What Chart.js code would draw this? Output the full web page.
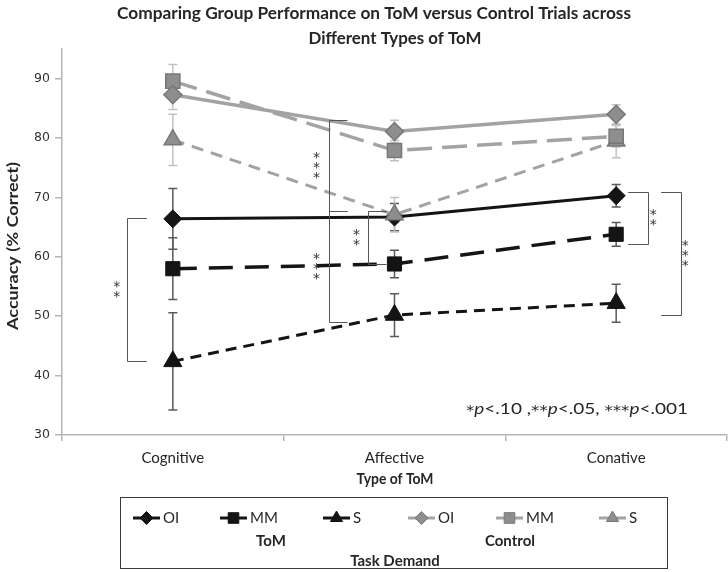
<!DOCTYPE html>
<html><head><meta charset="utf-8">
<script src="https://cdn.jsdelivr.net/npm/chart.js@4/dist/chart.umd.min.js"></script>
<style>html,body{margin:0;padding:0;background:#fff;overflow:hidden}canvas{display:block}</style>
</head><body>
<canvas id="c" width="728" height="572"></canvas>
<script>
// ---- data ----
const categories = ['Cognitive', 'Affective', 'Conative'];
const yTicks = [30, 40, 50, 60, 70, 80, 90];

const tomOI = [66.4, 66.7, 70.3];
const tomOIErr = [5.1, 2.3, 1.9];
const tomMM = [58.0, 58.8, 63.8];
const tomMMErr = [5.2, 2.3, 2.0];
const tomS = [42.4, 50.2, 52.2];
const tomSErr = [8.2, 3.6, 3.2];

const ctrlOI = [87.3, 81.1, 84.0];
const ctrlOIErr = [2.5, 1.9, 1.6];
const ctrlMM = [89.6, 77.9, 80.3];
const ctrlMMErr = [2.8, 1.7, 1.8];
const ctrlS = [79.7, 67.1, 79.5];
const ctrlSErr = [4.3, 2.9, 2.8];

const groupLabels = ['ToM', 'Control'];

// significance brackets: category index, value range, number of stars
const bracketCats = [0, 1, 1, 1, 2, 2];
const bracketTop = [66.5, 83.1, 67.7, 67.7, 71.0, 71.0];
const bracketBottom = [42.5, 67.7, 49.1, 58.8, 62.2, 50.2];
const bracketStars = [2, 3, 3, 2, 2, 3];
// style offsets (pixels relative to the category centre)
const bracketStyle = [
  {vx: -46, ax: -26, lx: -56},
  {vx: -66, ax: -47, lx: -78},
  {vx: -66, ax: -47, lx: -78},
  {vx: -27, ax: -8,  lx: -38},
  {vx: 32,  ax: 12,  lx: 37},
  {vx: 65,  ax: 45,  lx: 69}
];

const BLACK = '#141414';
const GREY_LINE = '#a3a3a3';
const GREY_FILL = '#8e8e8e';
const GREY_EDGE = '#777777';

function ds(label, data, err, group, style) {
  return Object.assign({
    label: label, data: data, err: err, group: group,
    tension: 0, fill: false, pointHoverRadius: 0
  }, style);
}

const datasets = [
  ds('OI', tomOI, tomOIErr, 'ToM', {order: 1, borderColor: BLACK, borderWidth: 3, borderDash: [],
     pointStyle: 'rectRot', pointRadius: 9, pointBackgroundColor: BLACK, pointBorderColor: BLACK, pointBorderWidth: 1, errColor: '#5a5a5a'}),
  ds('MM', tomMM, tomMMErr, 'ToM', {order: 1, borderColor: BLACK, borderWidth: 3.5, borderDash: [24, 12],
     pointStyle: 'rect', pointRadius: 10, pointBackgroundColor: BLACK, pointBorderColor: BLACK, pointBorderWidth: 1, errColor: '#5a5a5a'}),
  ds('S', tomS, tomSErr, 'ToM', {order: 1, borderColor: BLACK, borderWidth: 3, borderDash: [11, 7],
     pointStyle: 'triangle', pointRadius: 10.5, pointBackgroundColor: BLACK, pointBorderColor: BLACK, pointBorderWidth: 1, errColor: '#5a5a5a'}),
  ds('OI', ctrlOI, ctrlOIErr, 'Control', {order: 0, borderColor: GREY_LINE, borderWidth: 3.5, borderDash: [],
     pointStyle: 'rectRot', pointRadius: 9, pointBackgroundColor: GREY_FILL, pointBorderColor: GREY_EDGE, pointBorderWidth: 1.5, errColor: '#c2c2c2'}),
  ds('MM', ctrlMM, ctrlMMErr, 'Control', {order: 0, borderColor: GREY_LINE, borderWidth: 3.5, borderDash: [25, 10],
     pointStyle: 'rect', pointRadius: 10, pointBackgroundColor: GREY_FILL, pointBorderColor: GREY_EDGE, pointBorderWidth: 1.5, errColor: '#c2c2c2'}),
  ds('S', ctrlS, ctrlSErr, 'Control', {order: 0, borderColor: GREY_LINE, borderWidth: 3, borderDash: [12, 8],
     pointStyle: 'triangle', pointRadius: 10, pointBackgroundColor: GREY_FILL, pointBorderColor: GREY_EDGE, pointBorderWidth: 1.5, errColor: '#c2c2c2'})
];

const FONT = 'Lato, "Open Sans", sans-serif';
const STAR_FONT = '14px "DejaVu Sans"';
const TEXT = '#262626';

function fitText(ctx, text, cx, cy, targetW, font, align) {
  ctx.save();
  ctx.font = font;
  const w = ctx.measureText(text).width;
  const s = targetW ? targetW / w : 1;
  ctx.translate(cx, cy);
  ctx.scale(s, 1);
  ctx.textAlign = align || 'center';
  ctx.textBaseline = 'middle';
  ctx.fillText(text, 0, 0);
  ctx.restore();
}

function drawStars(ctx, x, yMid, n) {
  ctx.save();
  ctx.font = STAR_FONT;
  ctx.fillStyle = '#333';
  ctx.textAlign = 'center';
  ctx.textBaseline = 'alphabetic';
  const m = ctx.measureText('*');
  const asc = m.actualBoundingBoxAscent, desc = m.actualBoundingBoxDescent;
  const gap = 10;
  for (let i = 0; i < n; i++) {
    const cy = yMid + (i - (n - 1) / 2) * gap;
    ctx.fillText('*', x, cy + (asc - desc) / 2);
  }
  ctx.restore();
}

const decor = {
  id: 'decor',
  beforeDraw(chart) {
    const ctx = chart.ctx;
    ctx.save();
    ctx.fillStyle = '#fff';
    ctx.fillRect(0, 0, chart.width, chart.height);
    ctx.restore();
  },
  beforeDatasetsDraw(chart) {
    const ctx = chart.ctx, xs = chart.scales.x, ys = chart.scales.y;
    ctx.save();
    chart.data.datasets.forEach(d => {
      ctx.strokeStyle = d.errColor;
      ctx.lineWidth = 1.5;
      d.data.forEach((v, i) => {
        const x = xs.getPixelForValue(i);
        const yt = ys.getPixelForValue(v + d.err[i]);
        const yb = ys.getPixelForValue(v - d.err[i]);
        ctx.beginPath();
        ctx.moveTo(x, yt); ctx.lineTo(x, yb);
        ctx.moveTo(x - 4.5, yt); ctx.lineTo(x + 4.5, yt);
        ctx.moveTo(x - 4.5, yb); ctx.lineTo(x + 4.5, yb);
        ctx.stroke();
      });
    });
    ctx.restore();
  },
  afterDatasetsDraw(chart) {
    const ctx = chart.ctx, xs = chart.scales.x, ys = chart.scales.y;
    ctx.save();
    ctx.strokeStyle = '#555';
    ctx.lineWidth = 1;
    bracketCats.forEach((c, i) => {
      const cx = xs.getPixelForValue(c);
      const st = bracketStyle[i];
      const y1 = ys.getPixelForValue(bracketTop[i]);
      const y2 = ys.getPixelForValue(bracketBottom[i]);
      const vx = Math.round(cx + st.vx) + 0.5, ax = cx + st.ax;
      ctx.beginPath();
      ctx.moveTo(ax, Math.round(y1) + 0.5); ctx.lineTo(vx, Math.round(y1) + 0.5);
      ctx.lineTo(vx, Math.round(y2) + 0.5); ctx.lineTo(ax, Math.round(y2) + 0.5);
      ctx.stroke();
      drawStars(ctx, cx + st.lx, (y1 + y2) / 2, bracketStars[i]);
    });
    ctx.restore();
  },
  afterDraw(chart) {
    const ctx = chart.ctx;
    ctx.save();
    ctx.fillStyle = TEXT;
    // title
    fitText(ctx, 'Comparing Group Performance on ToM versus Control Trials across', 374, 14, 514, 'bold 17px ' + FONT);
    fitText(ctx, 'Different Types of ToM', 395, 39, 173, 'bold 17px ' + FONT);
    // axis titles
    fitText(ctx, 'Type of ToM', 395, 479, 77, 'bold 16px ' + FONT);
    ctx.save();
    ctx.translate(13, 246);
    ctx.rotate(-Math.PI / 2);
    fitText(ctx, 'Accuracy (% Correct)', 0, 0, 168, 'bold 16px ' + FONT);
    ctx.restore();

    // significance note, with italic p
    const parts = [['*', 's'], ['p', 'i'], ['<.10 ,', 'n'], ['**', 's'], ['p', 'i'], ['<.05, ', 'n'], ['***', 's'], ['p', 'i'], ['<.001', 'n']];
    const fontOf = t => t === 's' ? '14px "DejaVu Sans"' : (t === 'i' ? 'italic 16px ' + FONT : '16px ' + FONT);
    let total = 0;
    parts.forEach(p => { ctx.font = fontOf(p[1]); total += ctx.measureText(p[0]).width; });
    const s = 222 / total;
    ctx.save();
    ctx.translate(466, 409);
    ctx.scale(s, 1);
    ctx.textBaseline = 'middle';
    ctx.textAlign = 'left';
    let px = 0;
    parts.forEach(p => {
      ctx.font = fontOf(p[1]);
      ctx.fillText(p[0], px, p[1] === 's' ? 2 : 0);
      px += ctx.measureText(p[0]).width;
    });
    ctx.restore();

    // legend
    ctx.strokeStyle = '#3a3a3a';
    ctx.lineWidth = 1;
    ctx.strokeRect(120.5, 497.5, 547, 71);
    const lx = [133, 220, 323, 408, 496, 599];
    chart.data.datasets.forEach((d, i) => {
      const x0 = lx[i], y0 = 518, len = 27;
      ctx.save();
      ctx.strokeStyle = d.borderColor;
      ctx.lineWidth = 3;
      ctx.beginPath(); ctx.moveTo(x0, y0); ctx.lineTo(x0 + len, y0); ctx.stroke();
      ctx.fillStyle = d.pointBackgroundColor;
      ctx.strokeStyle = d.pointBorderColor;
      ctx.lineWidth = 1;
      const r = d.pointStyle === 'rect' ? 7.5 : (d.pointStyle === 'triangle' ? 7 : 6.5);
      Chart.helpers.drawPoint(ctx, {pointStyle: d.pointStyle, radius: r, borderWidth: 1, rotation: 0}, x0 + len / 2, y0);
      ctx.restore();
      ctx.font = '15px ' + FONT;
      ctx.fillStyle = TEXT;
      ctx.textAlign = 'left';
      ctx.textBaseline = 'middle';
      ctx.fillText(d.label, x0 + len + 3, y0);
    });
    fitText(ctx, groupLabels[0], 271, 541, null, 'bold 15px ' + FONT);
    fitText(ctx, groupLabels[1], 510, 541, null, 'bold 15px ' + FONT);
    fitText(ctx, 'Task Demand', 395, 561, null, 'bold 15px ' + FONT);
    ctx.restore();
  }
};

new Chart(document.getElementById('c'), {
  type: 'line',
  data: {labels: categories, datasets: datasets},
  options: {
    responsive: false, animation: false, devicePixelRatio: 1,
    layout: {autoPadding: false, padding: {top: 49, left: 0, right: 1, bottom: 0}},
    plugins: {legend: {display: false}, title: {display: false}, tooltip: {enabled: false}},
    events: [],
    scales: {
      x: {
        type: 'category', offset: true,
        grid: {display: true, offset: true, drawOnChartArea: false, drawTicks: true, tickLength: 6, color: '#b5b5b5', lineWidth: 1.5},
        border: {display: true, color: '#b5b5b5', width: 1.5},
        ticks: {color: TEXT, font: {family: FONT, size: 15}, padding: 8, maxRotation: 0},
        afterFit: s => { s.height = 137; s.paddingLeft = 0; s.paddingRight = 0; }
      },
      y: {
        min: 30, max: 95,
        afterBuildTicks: s => { s.ticks = yTicks.map(v => ({value: v})); },
        grid: {drawOnChartArea: false, drawTicks: true, tickLength: 7, color: '#b5b5b5', lineWidth: 1.5},
        border: {display: true, color: '#b5b5b5', width: 1.5},
        ticks: {color: '#333', font: {family: '"DejaVu Sans"', size: 12.5}, padding: 5},
        afterFit: s => { s.width = 62; s.paddingTop = 0; s.paddingBottom = 0; }
      }
    }
  },
  plugins: [decor]
});
</script>
</body></html>
